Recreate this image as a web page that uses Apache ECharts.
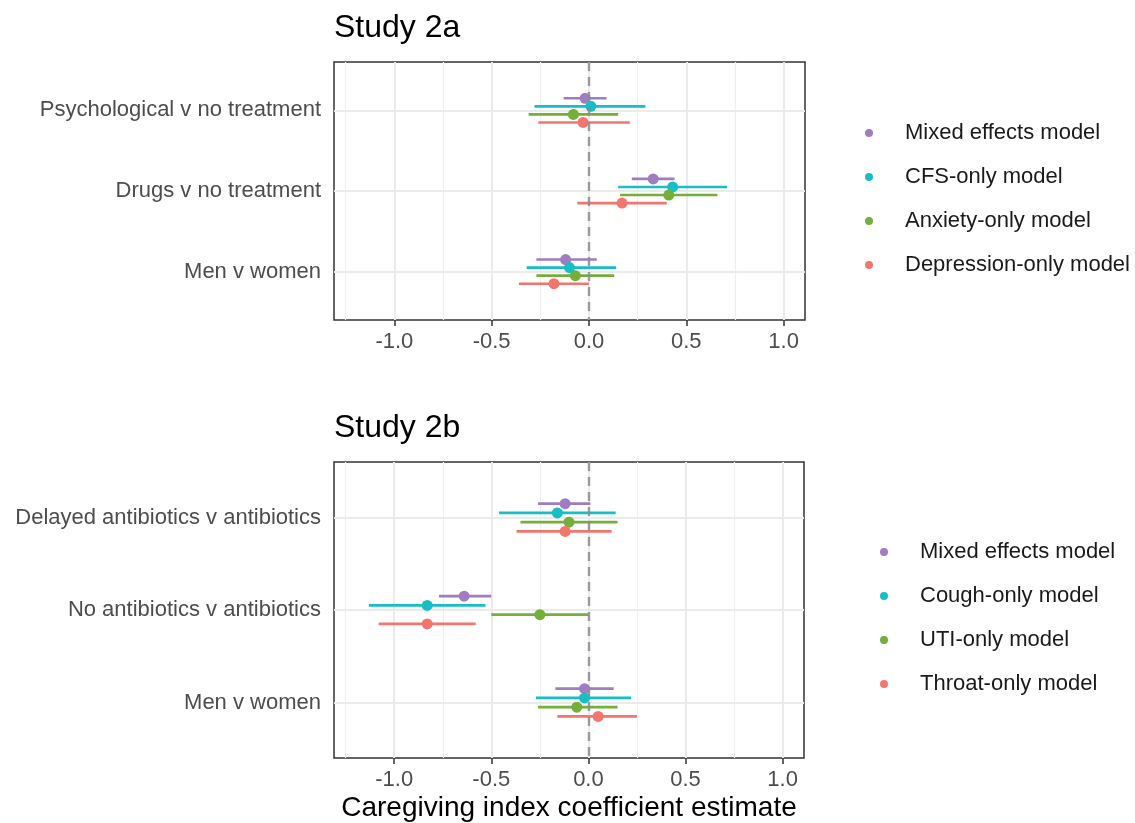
<!DOCTYPE html>
<html>
<head>
<meta charset="utf-8">
<script src="https://cdn.jsdelivr.net/npm/echarts@6/dist/echarts.min.js"></script>
<style>html,body{margin:0;padding:0;background:#fff;}#chart{width:1135px;height:823px;}</style>
</head>
<body>
<div id="chart"></div>
<script>
// ---------- data ----------
const study2aCategories = ['Psychological v no treatment', 'Drugs v no treatment', 'Men v women'];
const study2bCategories = ['Delayed antibiotics v antibiotics', 'No antibiotics v antibiotics', 'Men v women'];
const study2aModels = ['Mixed effects model', 'CFS-only model', 'Anxiety-only model', 'Depression-only model'];
const study2bModels = ['Mixed effects model', 'Cough-only model', 'UTI-only model', 'Throat-only model'];
const xTicks = [-1, -0.5, 0, 0.5, 1];
const xMinorTicks = [-1.25, -0.75, -0.25, 0.25, 0.75];

// Study 2a (order of categories as above)
const mixed2aEst = [-0.02, 0.33, -0.12];
const mixed2aLo  = [-0.13, 0.22, -0.27];
const mixed2aHi  = [0.09, 0.44, 0.04];
const cfs2aEst   = [0.01, 0.43, -0.10];
const cfs2aLo    = [-0.28, 0.15, -0.32];
const cfs2aHi    = [0.29, 0.71, 0.14];
const anx2aEst   = [-0.08, 0.41, -0.07];
const anx2aLo    = [-0.31, 0.16, -0.27];
const anx2aHi    = [0.15, 0.66, 0.13];
const dep2aEst   = [-0.03, 0.17, -0.18];
const dep2aLo    = [-0.26, -0.06, -0.36];
const dep2aHi    = [0.21, 0.40, 0.00];

// Study 2b
const mixed2bEst = [-0.12, -0.64, -0.02];
const mixed2bLo  = [-0.26, -0.77, -0.17];
const mixed2bHi  = [0.01, -0.50, 0.13];
const cough2bEst = [-0.16, -0.83, -0.02];
const cough2bLo  = [-0.46, -1.13, -0.27];
const cough2bHi  = [0.14, -0.53, 0.22];
const uti2bEst   = [-0.10, -0.25, -0.06];
const uti2bLo    = [-0.35, -0.50, -0.26];
const uti2bHi    = [0.15, 0.00, 0.15];
const thr2bEst   = [-0.12, -0.83, 0.05];
const thr2bLo    = [-0.37, -1.08, -0.16];
const thr2bHi    = [0.12, -0.58, 0.25];

// ---------- style ----------
const colors = ['#A07DC1', '#17BEC6', '#74AE3B', '#F3766E'];
const dodge = [-0.15, -0.05, 0.05, 0.15];
const FONT = '"Liberation Sans", Arial, Helvetica, sans-serif';

function buildData(est, lo, hi) {
  return est.map((e, i) => [e, lo[i], hi[i], i + 1]);
}

function rangeSeries(name, est, lo, hi, idx, gi) {
  const color = colors[idx];
  const off = dodge[idx];
  return {
    name: name,
    type: 'custom',
    xAxisIndex: gi, yAxisIndex: gi,
    itemStyle: { color: color },
    z: 5,
    data: buildData(est, lo, hi),
    renderItem: function (params, api) {
      const y = api.value(3) + off;
      const p = api.coord([api.value(0), y]);
      const a = api.coord([api.value(1), y]);
      const b = api.coord([api.value(2), y]);
      return {
        type: 'group',
        children: [
          { type: 'line', shape: { x1: a[0], y1: a[1], x2: b[0], y2: b[1] }, style: { stroke: color, lineWidth: 2.6 } },
          { type: 'circle', shape: { cx: p[0], cy: p[1], r: 5.5 }, style: { fill: color } }
        ]
      };
    }
  };
}

function gridSeries(gi) {
  const lines = [];
  xMinorTicks.forEach(v => lines.push({ xAxis: v, lineStyle: { color: '#EFEFEF', width: 1.2, type: 'solid' } }));
  xTicks.forEach(v => lines.push({ xAxis: v, lineStyle: { color: '#EBEBEB', width: 2, type: 'solid' } }));
  [1, 2, 3].forEach(v => lines.push({ yAxis: v, lineStyle: { color: '#EBEBEB', width: 2, type: 'solid' } }));
  return {
    type: 'line', xAxisIndex: gi, yAxisIndex: gi, data: [], z: 1, silent: true,
    markLine: { silent: true, symbol: 'none', z: 1, label: { show: false }, animation: false, data: lines }
  };
}

function zeroSeries(gi) {
  return {
    type: 'line', xAxisIndex: gi, yAxisIndex: gi, data: [], z: 8, silent: true,
    markLine: {
      silent: true, symbol: 'none', z: 8, label: { show: false }, animation: false,
      lineStyle: { color: 'rgba(140,140,140,0.85)', width: 2.4, type: [9, 6] },
      data: [{ xAxis: 0 }]
    }
  };
}

function xAxisOpt(gi, withName) {
  const o = {
    type: 'value', gridIndex: gi, min: -1.31, max: 1.11,
    axisLine: { show: false },
    axisTick: { show: true, length: 6, customValues: xTicks, lineStyle: { color: '#333', width: 1.5 } },
    axisLabel: { customValues: xTicks, margin: 11, color: '#4D4D4D', fontSize: 22, fontFamily: FONT,
      formatter: v => v.toFixed(1) },
    splitLine: { show: false }
  };
  if (withName) {
    o.name = 'Caregiving index coefficient estimate';
    o.nameLocation = 'middle';
    o.nameGap = 36;
    o.nameTextStyle = { fontSize: 28, color: '#000', fontFamily: FONT };
  }
  return o;
}

function yAxisOpt(gi, cats) {
  return {
    type: 'value', gridIndex: gi, min: 0.4, max: 3.6, inverse: true,
    axisLine: { show: false },
    axisTick: { show: true, length: 6, customValues: [1, 2, 3], lineStyle: { color: '#333', width: 1.5 } },
    axisLabel: { customValues: [1, 2, 3], margin: 13, color: '#4D4D4D', fontSize: 22, fontFamily: FONT,
      formatter: v => cats[Math.round(v) - 1] || '' },
    splitLine: { show: false }
  };
}

function legendOpt(models, left, top) {
  return {
    orient: 'vertical', left: left, top: top,
    data: models, icon: 'circle', itemWidth: 62, itemHeight: 8, itemGap: 20,
    selectedMode: false, padding: 0,
    textStyle: { fontSize: 22, color: '#1A1A1A', fontFamily: FONT, lineHeight: 24 }
  };
}

const option = {
  backgroundColor: '#fff',
  animation: false,
  title: [
    { text: 'Study 2a', left: 334, top: 12, padding: 0, textStyle: { fontSize: 32, fontWeight: 'normal', color: '#000', fontFamily: FONT } },
    { text: 'Study 2b', left: 334, top: 412, padding: 0, textStyle: { fontSize: 32, fontWeight: 'normal', color: '#000', fontFamily: FONT } }
  ],
  grid: [
    { left: 334, top: 62, width: 471, height: 258, show: true, borderColor: '#333', borderWidth: 1.5, backgroundColor: '#fff', containLabel: false, outerBoundsMode: 'none' },
    { left: 334, top: 462, width: 470, height: 296, show: true, borderColor: '#333', borderWidth: 1.5, backgroundColor: '#fff', containLabel: false, outerBoundsMode: 'none' }
  ],
  xAxis: [xAxisOpt(0, false), xAxisOpt(1, true)],
  yAxis: [yAxisOpt(0, study2aCategories), yAxisOpt(1, study2bCategories)],
  legend: [legendOpt(study2aModels, 865, 121), legendOpt(study2bModels, 880, 540)],
  series: [
    gridSeries(0), gridSeries(1),
    rangeSeries(study2aModels[0], mixed2aEst, mixed2aLo, mixed2aHi, 0, 0),
    rangeSeries(study2aModels[1], cfs2aEst, cfs2aLo, cfs2aHi, 1, 0),
    rangeSeries(study2aModels[2], anx2aEst, anx2aLo, anx2aHi, 2, 0),
    rangeSeries(study2aModels[3], dep2aEst, dep2aLo, dep2aHi, 3, 0),
    rangeSeries(study2bModels[0], mixed2bEst, mixed2bLo, mixed2bHi, 0, 1),
    rangeSeries(study2bModels[1], cough2bEst, cough2bLo, cough2bHi, 1, 1),
    rangeSeries(study2bModels[2], uti2bEst, uti2bLo, uti2bHi, 2, 1),
    rangeSeries(study2bModels[3], thr2bEst, thr2bLo, thr2bHi, 3, 1),
    zeroSeries(0), zeroSeries(1)
  ]
};

const chart = echarts.init(document.getElementById('chart'), null, { renderer: 'canvas' });
chart.setOption(option);
</script>
</body>
</html>
